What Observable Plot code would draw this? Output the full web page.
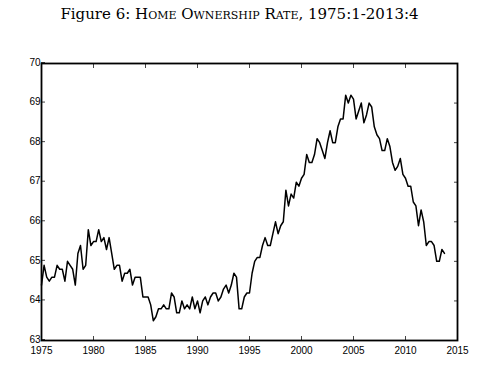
<!DOCTYPE html>
<html><head><meta charset="utf-8">
<script src="https://cdn.jsdelivr.net/npm/d3@7"></script>
<script src="https://cdn.jsdelivr.net/npm/@observablehq/plot@0.6"></script>
<style>
body{margin:0;background:#fff;}
#title{height:30px;line-height:28px;text-align:center;font-family:"DejaVu Serif",serif;font-size:15px;color:#000;box-sizing:border-box;padding-left:2px;}
.sc{font-variant:small-caps;}
</style>
</head><body>
<div id="title">Figure 6: <span class="sc">Home Ownership Rate</span>, 1975:1-2013:4</div>
<div id="chart"></div>
<script>
const startYear = 1975;
const rates = [
64.4,64.9,64.6,64.5, 64.6,64.6,64.9,64.8, 64.8,64.5,65.0,64.9, 64.8,64.4,65.2,65.4,
64.8,64.9,65.8,65.4, 65.5,65.5,65.8,65.5, 65.6,65.3,65.6,65.2, 64.8,64.9,64.9,64.5,
64.7,64.7,64.8,64.4, 64.6,64.6,64.6,64.1, 64.1,64.1,63.9,63.5, 63.6,63.8,63.8,63.9,
63.8,63.8,64.2,64.1, 63.7,63.7,64.0,63.8, 63.9,63.8,64.1,63.8, 64.0,63.7,64.0,64.1,
63.9,64.1,64.2,64.2, 64.0,64.1,64.3,64.4, 64.2,64.4,64.7,64.6, 63.8,63.8,64.1,64.2,
64.2,64.7,65.0,65.1, 65.1,65.4,65.6,65.4, 65.4,65.7,66.0,65.7, 65.9,66.0,66.8,66.4,
66.7,66.6,67.0,66.9, 67.1,67.2,67.7,67.5, 67.5,67.7,68.1,68.0, 67.8,67.6,68.0,68.3,
68.0,68.0,68.4,68.6, 68.6,69.2,69.0,69.2, 69.1,68.6,68.8,69.0, 68.5,68.7,69.0,68.9,
68.4,68.2,68.1,67.8, 67.8,68.1,67.9,67.5, 67.3,67.4,67.6,67.2, 67.1,66.9,66.9,66.5,
66.4,65.9,66.3,66.0, 65.4,65.5,65.5,65.4, 65.0,65.0,65.3,65.2
];
const xTicks = [1975,1980,1985,1990,1995,2000,2005,2010,2015];
const yTicks = [63,64,65,66,67,68,69,70];

const data = rates.map((v,i)=>({t: startYear + i/4, v}));

const chart = Plot.plot({
  width: 477,
  height: 341,
  marginTop: 33,
  marginBottom: 31,
  marginLeft: 41,
  marginRight: 20,
  style: {fontFamily: "'Liberation Sans', Arial, sans-serif", fontSize: "10px", color: "#000", background: "#fff"},
  x: {domain: [1975, 2015]},
  y: {domain: [63, 70]},
  marks: [
    Plot.axisX({anchor: "bottom", ticks: xTicks, tickFormat: d => String(d), tickSize: -4, tickPadding: 10, label: null, strokeWidth: 1, stroke: "#444"}),
    Plot.axisX({anchor: "top", ticks: xTicks, tickSize: -4, text: null, label: null, strokeWidth: 1, stroke: "#444"}),
    Plot.axisY({anchor: "left", ticks: yTicks, tickFormat: d => String(d), tickSize: -4, tickPadding: 5, dy: -1, label: null, strokeWidth: 1, stroke: "#444"}),
    Plot.axisY({anchor: "right", ticks: yTicks, tickSize: -4, text: null, label: null, strokeWidth: 1, stroke: "#444"}),
    Plot.frame({stroke: "#000", strokeWidth: 1.8}),
    Plot.line(data, {x: "t", y: "v", stroke: "#000", strokeWidth: 1.5})
  ]
});
document.getElementById("chart").appendChild(chart);
</script>
</body></html>
